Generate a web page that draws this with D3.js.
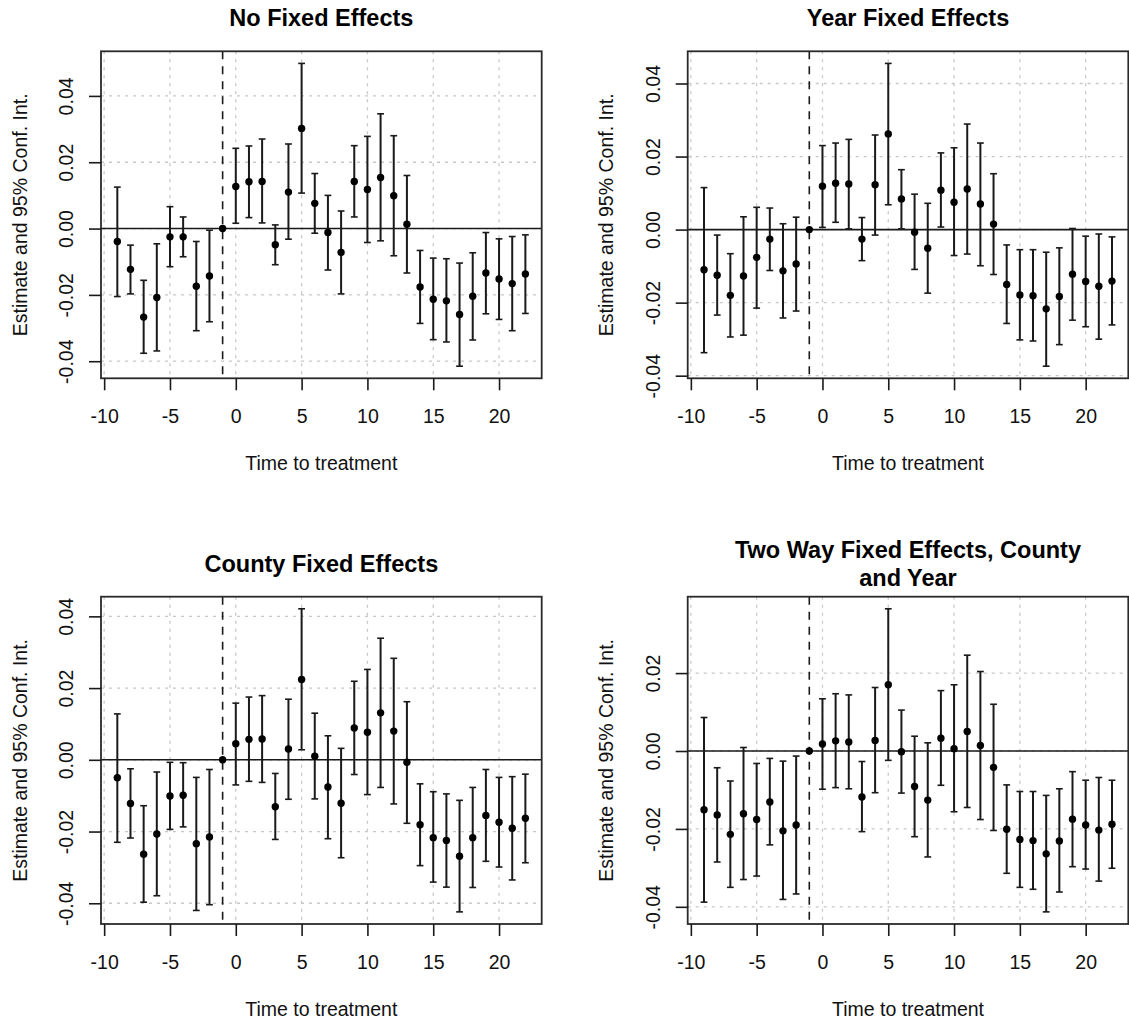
<!DOCTYPE html>
<html>
<head>
<meta charset="utf-8">
<script src="https://cdn.jsdelivr.net/npm/d3@7"></script>
<style>
  html, body { margin: 0; padding: 0; background: #fff; }
  svg { display: block; font-family: "Liberation Sans", Arial, Helvetica, sans-serif; }
</style>
</head>
<body>
<svg id="chart" width="1129" height="1025"></svg>
<script>
// ---------------- data ----------------
const timeToTreatment = [-9,-8,-7,-6,-5,-4,-3,-2,-1,0,1,2,3,4,5,6,7,8,9,10,11,12,13,14,15,16,17,18,19,20,21,22];

const panelTitles = [
  ["No Fixed Effects"],
  ["Year Fixed Effects"],
  ["County Fixed Effects"],
  ["Two Way Fixed Effects, County", "and Year"]
];

const est1 = [-0.0039,-0.0123,-0.0267,-0.0208,-0.0025,-0.0025,-0.0174,-0.0143,0,0.0127,0.0141,0.0142,-0.0049,0.0110,0.0302,0.0076,-0.0012,-0.0072,0.0142,0.0118,0.0154,0.0099,0.0013,-0.0176,-0.0213,-0.0218,-0.0259,-0.0204,-0.0134,-0.0152,-0.0166,-0.0137];
const hi1  = [0.0125,-0.0050,-0.0156,-0.0046,0.0066,0.0035,-0.0039,-0.0005,0,0.0242,0.0249,0.0270,0.0011,0.0255,0.0498,0.0166,0.0100,0.0053,0.0250,0.0278,0.0346,0.0280,0.0160,-0.0066,-0.0089,-0.0091,-0.0104,-0.0073,-0.0012,-0.0031,-0.0024,-0.0019];
const lo1  = [-0.0205,-0.0197,-0.0376,-0.0369,-0.0115,-0.0085,-0.0308,-0.0281,0,0.0016,0.0033,0.0017,-0.0109,-0.0032,0.0107,-0.0014,-0.0125,-0.0197,0.0035,-0.0042,-0.0037,-0.0082,-0.0134,-0.0286,-0.0335,-0.0342,-0.0415,-0.0336,-0.0257,-0.0274,-0.0308,-0.0256];

const est2 = [-0.0110,-0.0125,-0.0180,-0.0127,-0.0076,-0.0026,-0.0113,-0.0094,0,0.0119,0.0127,0.0125,-0.0026,0.0123,0.0262,0.0084,-0.0007,-0.0051,0.0108,0.0075,0.0111,0.0070,0.0015,-0.0150,-0.0179,-0.0181,-0.0217,-0.0183,-0.0122,-0.0142,-0.0155,-0.0141];
const hi2  = [0.0115,-0.0015,-0.0066,0.0035,0.0061,0.0059,0.0016,0.0034,0,0.0230,0.0237,0.0247,0.0033,0.0259,0.0455,0.0164,0.0097,0.0072,0.0210,0.0224,0.0289,0.0237,0.0153,-0.0042,-0.0055,-0.0055,-0.0062,-0.0050,0.0003,-0.0018,-0.0012,-0.0020];
const lo2  = [-0.0337,-0.0234,-0.0294,-0.0289,-0.0215,-0.0112,-0.0242,-0.0223,0,0.0006,0.0020,0.0002,-0.0085,-0.0015,0.0068,0.0002,-0.0109,-0.0174,0.0007,-0.0071,-0.0067,-0.0099,-0.0123,-0.0257,-0.0302,-0.0305,-0.0374,-0.0315,-0.0248,-0.0266,-0.0300,-0.0261];

const est3 = [-0.0050,-0.0122,-0.0263,-0.0207,-0.0101,-0.0099,-0.0234,-0.0215,0,0.0045,0.0057,0.0058,-0.0131,0.0030,0.0224,0.0010,-0.0076,-0.0121,0.0089,0.0077,0.0131,0.0080,-0.0007,-0.0181,-0.0217,-0.0225,-0.0269,-0.0217,-0.0155,-0.0174,-0.0191,-0.0163];
const hi3  = [0.0128,-0.0025,-0.0128,-0.0034,-0.0007,-0.0008,-0.0049,-0.0027,0,0.0158,0.0175,0.0179,-0.0038,0.0169,0.0421,0.0130,0.0067,0.0032,0.0219,0.0252,0.0339,0.0283,0.0162,-0.0067,-0.0089,-0.0095,-0.0113,-0.0077,-0.0027,-0.0049,-0.0047,-0.0040];
const lo3  = [-0.0230,-0.0218,-0.0397,-0.0379,-0.0194,-0.0187,-0.0420,-0.0404,0,-0.0070,-0.0060,-0.0063,-0.0222,-0.0110,0.0028,-0.0109,-0.0220,-0.0273,-0.0041,-0.0097,-0.0077,-0.0123,-0.0177,-0.0295,-0.0341,-0.0355,-0.0424,-0.0356,-0.0283,-0.0299,-0.0335,-0.0287];

const est4 = [-0.0151,-0.0164,-0.0214,-0.0161,-0.0176,-0.0131,-0.0205,-0.0190,0,0.0018,0.0026,0.0023,-0.0118,0.0027,0.0170,-0.0002,-0.0091,-0.0126,0.0033,0.0006,0.0050,0.0014,-0.0042,-0.0201,-0.0227,-0.0230,-0.0264,-0.0231,-0.0175,-0.0190,-0.0203,-0.0188];
const hi4  = [0.0086,-0.0043,-0.0077,0.0009,-0.0032,-0.0019,-0.0026,-0.0013,0,0.0134,0.0147,0.0144,-0.0027,0.0163,0.0365,0.0105,0.0038,0.0021,0.0155,0.0170,0.0246,0.0204,0.0120,-0.0087,-0.0104,-0.0104,-0.0114,-0.0097,-0.0053,-0.0075,-0.0068,-0.0075];
const lo4  = [-0.0388,-0.0285,-0.0350,-0.0330,-0.0321,-0.0241,-0.0381,-0.0367,0,-0.0098,-0.0094,-0.0097,-0.0207,-0.0107,-0.0024,-0.0108,-0.0220,-0.0272,-0.0088,-0.0156,-0.0145,-0.0176,-0.0204,-0.0314,-0.0350,-0.0355,-0.0413,-0.0362,-0.0297,-0.0303,-0.0334,-0.0301];

const xTicks = [-10,-5,0,5,10,15,20];
const xTickLabels = ["-10","-5","0","5","10","15","20"];
const yTicksFull = [-0.04,-0.02,0,0.02,0.04];
const yTickLabelsFull = ["-0.04","-0.02","0.00","0.02","0.04"];
const yTicksShort = [-0.04,-0.02,0,0.02];
const yTickLabelsShort = ["-0.04","-0.02","0.00","0.02"];

const treatmentLine = -1;
const xLabel = "Time to treatment";
const yLabel = "Estimate and 95% Conf. Int.";

// ---------------- layout ----------------
const panels = [
  {est: est1, lo: lo1, hi: hi1, title: panelTitles[0], yt: yTicksFull, ytl: yTickLabelsFull, left: 101, right: 541.7, top: 51.3, bottom: 378.3},
  {est: est2, lo: lo2, hi: hi2, title: panelTitles[1], yt: yTicksFull, ytl: yTickLabelsFull, left: 687.7, right: 1128.3, top: 51.3, bottom: 378.3},
  {est: est3, lo: lo3, hi: hi3, title: panelTitles[2], yt: yTicksFull, ytl: yTickLabelsFull, left: 101, right: 541.7, top: 596.7, bottom: 924},
  {est: est4, lo: lo4, hi: hi4, title: panelTitles[3], yt: yTicksShort, ytl: yTickLabelsShort, left: 687.7, right: 1128.3, top: 596.7, bottom: 924}
];

const svg = d3.select("#chart");
svg.append("rect").attr("width", 1129).attr("height", 1025).attr("fill", "#fff");

const FONT = 19.5, TITLE_FONT = 23.5, INK = "#1a1a1a";

function rExtend(ext) { // R style 4% axis extension
  const r = ext[1] - ext[0];
  return [ext[0] - 0.04 * r, ext[1] + 0.04 * r];
}

panels.forEach(p => {
  const xs = d3.scaleLinear().domain(rExtend(d3.extent(timeToTreatment))).range([p.left, p.right]);
  const yMin = d3.min(p.lo), yMax = d3.max(p.hi);
  const ys = d3.scaleLinear().domain(rExtend([yMin, yMax])).range([p.bottom, p.top]);

  const g = svg.append("g");

  // grid
  g.append("g").selectAll("line").data(xTicks).join("line")
    .attr("x1", d => xs(d)).attr("x2", d => xs(d))
    .attr("y1", p.top).attr("y2", p.bottom)
    .attr("stroke", "#c8c8c8").attr("stroke-width", 1.3).attr("stroke-dasharray", "3,5");
  g.append("g").selectAll("line").data(p.yt).join("line")
    .attr("y1", d => ys(d)).attr("y2", d => ys(d))
    .attr("x1", p.left).attr("x2", p.right)
    .attr("stroke", "#c8c8c8").attr("stroke-width", 1.3).attr("stroke-dasharray", "3,5");

  // zero line
  g.append("line")
    .attr("x1", p.left).attr("x2", p.right)
    .attr("y1", ys(0)).attr("y2", ys(0))
    .attr("stroke", INK).attr("stroke-width", 1.6);

  // treatment dashed line
  g.append("line")
    .attr("x1", xs(treatmentLine)).attr("x2", xs(treatmentLine))
    .attr("y1", p.top).attr("y2", p.bottom)
    .attr("stroke", INK).attr("stroke-width", 1.6).attr("stroke-dasharray", "8,7");

  const rows = timeToTreatment.map((t, i) => ({t, e: p.est[i], lo: p.lo[i], hi: p.hi[i]}));
  const bars = rows.filter(r => r.hi !== r.lo);

  // error bars
  const eb = g.append("g").attr("stroke", INK);
  eb.selectAll("line.v").data(bars).join("line").attr("class", "v")
    .attr("x1", d => xs(d.t)).attr("x2", d => xs(d.t))
    .attr("y1", d => ys(d.lo)).attr("y2", d => ys(d.hi))
    .attr("stroke-width", 2);
  eb.selectAll("line.ct").data(bars).join("line").attr("class", "ct")
    .attr("x1", d => xs(d.t) - 3.4).attr("x2", d => xs(d.t) + 3.4)
    .attr("y1", d => ys(d.hi)).attr("y2", d => ys(d.hi))
    .attr("stroke-width", 1.6);
  eb.selectAll("line.cb").data(bars).join("line").attr("class", "cb")
    .attr("x1", d => xs(d.t) - 3.4).attr("x2", d => xs(d.t) + 3.4)
    .attr("y1", d => ys(d.lo)).attr("y2", d => ys(d.lo))
    .attr("stroke-width", 1.6);

  // points
  g.append("g").selectAll("circle").data(rows).join("circle")
    .attr("cx", d => xs(d.t)).attr("cy", d => ys(d.e)).attr("r", 3.7)
    .attr("fill", "#000");

  // box
  g.append("rect")
    .attr("x", p.left).attr("y", p.top)
    .attr("width", p.right - p.left).attr("height", p.bottom - p.top)
    .attr("fill", "none").attr("stroke", "#2a2a2a").attr("stroke-width", 1.8);

  // x axis
  const xa = g.append("g").attr("transform", `translate(0,${p.bottom})`)
    .call(d3.axisBottom(xs).tickValues(xTicks).tickSize(12).tickSizeOuter(0)
      .tickFormat((d, i) => xTickLabels[i]));
  xa.select(".domain").remove();
  xa.selectAll(".tick line").attr("stroke", INK).attr("stroke-width", 1.6);
  xa.selectAll(".tick text").attr("y", 45).attr("dy", 0)
    .attr("font-size", FONT).attr("font-family", "Liberation Sans, Arial, sans-serif").attr("fill", "#111");

  // y axis
  const ya = g.append("g").attr("transform", `translate(${p.left},0)`)
    .call(d3.axisLeft(ys).tickValues(p.yt).tickSize(12).tickSizeOuter(0)
      .tickFormat((d, i) => p.ytl[i]));
  ya.select(".domain").remove();
  ya.selectAll(".tick line").attr("stroke", INK).attr("stroke-width", 1.6);
  ya.selectAll(".tick text")
    .attr("transform", "rotate(-90)")
    .attr("x", 0).attr("y", -27.7).attr("dy", 0)
    .attr("text-anchor", "middle")
    .attr("font-size", FONT).attr("font-family", "Liberation Sans, Arial, sans-serif").attr("fill", "#111");

  // axis titles
  const cx = (p.left + p.right) / 2, cy = (p.top + p.bottom) / 2;
  g.append("text").attr("x", cx).attr("y", p.bottom + 91.7)
    .attr("text-anchor", "middle").attr("font-size", FONT).attr("fill", "#111")
    .text(xLabel);
  g.append("text")
    .attr("transform", `translate(${p.left - 74.3},${cy}) rotate(-90)`)
    .attr("text-anchor", "middle").attr("font-size", FONT).attr("fill", "#111")
    .text(yLabel);

  // title
  const lineGap = 28.5;
  const n = p.title.length;
  const base = p.top - 25 - (n - 1) * lineGap / 2 + 0.5 * (n - 1);
  p.title.forEach((t, i) => {
    g.append("text").attr("x", cx).attr("y", base + i * lineGap)
      .attr("text-anchor", "middle").attr("font-size", TITLE_FONT)
      .attr("font-weight", "bold").attr("fill", "#000")
      .text(t);
  });
});
</script>
</body>
</html>
